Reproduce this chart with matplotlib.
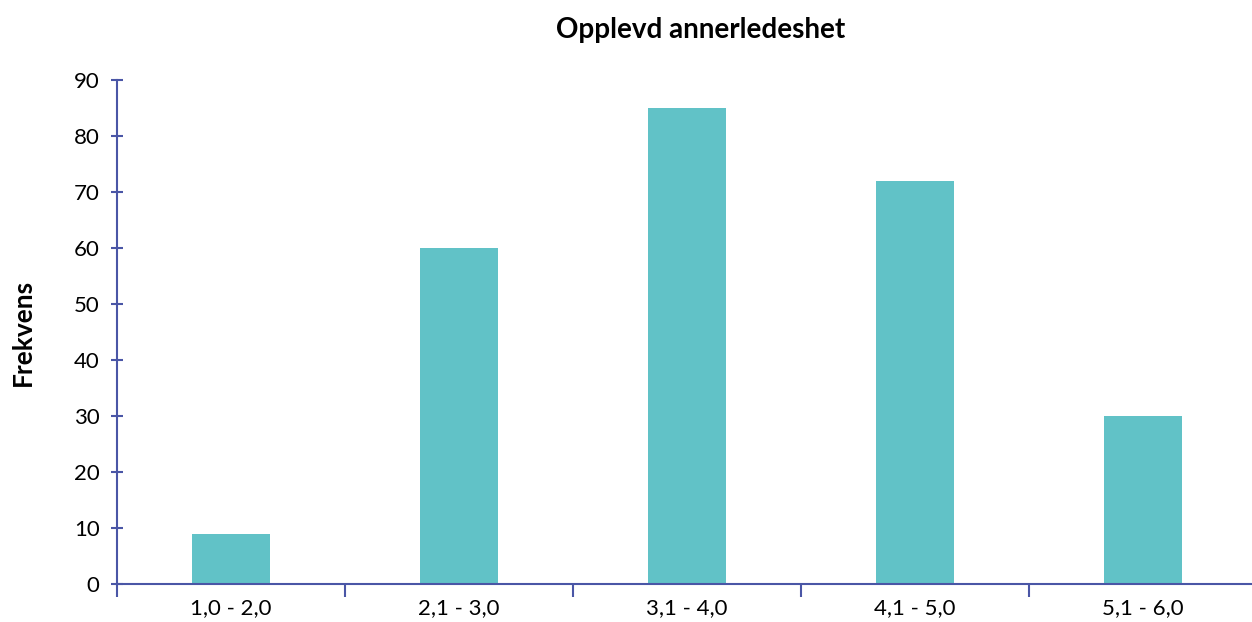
import matplotlib.pyplot as plt
import numpy as np

# categories and frequencies
categories = ['1,0 - 2,0', '2,1 - 3,0', '3,1 - 4,0', '4,1 - 5,0', '5,1 - 6,0']
frequency = [9, 60, 85, 72, 30]
yticks = [0, 10, 20, 30, 40, 50, 60, 70, 80, 90]

axis_color = '#4a56a6'
bar_color = '#61c2c7'

plt.rcParams['font.family'] = ['Lato', 'DejaVu Sans']

fig = plt.figure(figsize=(12.52, 6.22), dpi=100)
ax = fig.add_axes([117 / 1252, 37.7 / 622, 1140 / 1252, 504 / 622])

x = np.arange(len(categories))
ax.bar(x, frequency, width=0.34, color=bar_color, zorder=1)

ax.set_xlim(-0.5, len(categories) - 0.5)
ax.set_ylim(0, 90)
ax.set_yticks(yticks)
ax.set_xticks(x)
ax.set_xticklabels(categories)
ax.set_xticks(np.arange(-0.5, len(categories) - 0.5, 1.0), minor=True)

for side in ['top', 'right']:
    ax.spines[side].set_visible(False)
for side in ['left', 'bottom']:
    ax.spines[side].set_color(axis_color)
    ax.spines[side].set_linewidth(1.5)
    ax.spines[side].set_zorder(3)

ax.tick_params(axis='y', direction='inout', length=9, width=1.5, color=axis_color,
               labelsize=16, pad=8)
ax.tick_params(axis='x', which='major', length=0, labelsize=16, pad=10)
ax.tick_params(axis='x', which='minor', direction='out', length=9, width=1.5, color=axis_color)

ax.set_ylabel('Frekvens', fontsize=19, fontweight='bold', labelpad=28)
fig.text(0.56, 0.952, 'Opplevd annerledeshet', ha='center', va='center',
         fontsize=20, fontweight='bold')

plt.savefig('out.png', dpi=100)
